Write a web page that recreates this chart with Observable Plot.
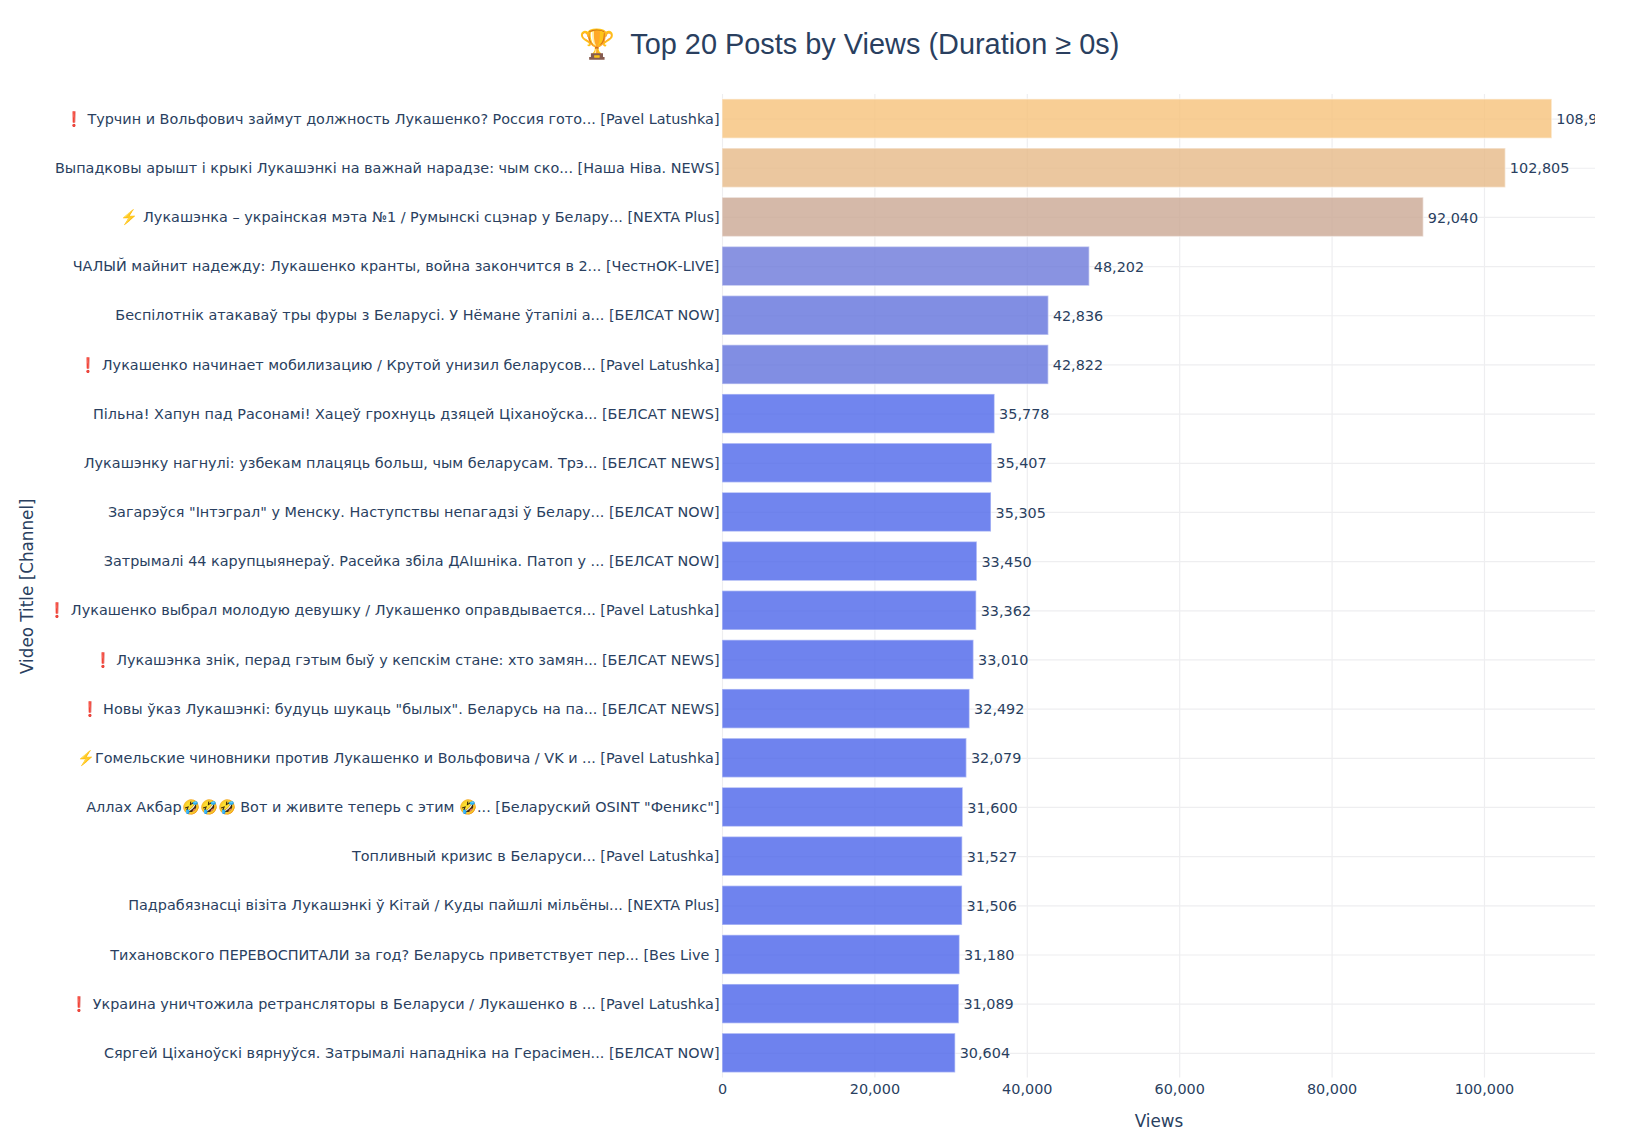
<!DOCTYPE html>
<html><head><meta charset="utf-8">
<script src="https://cdn.jsdelivr.net/npm/d3@7"></script>
<script src="https://cdn.jsdelivr.net/npm/@observablehq/plot@0.6"></script>
<style>
html,body{margin:0;padding:0;background:#fff;}
#wrap{width:1630px;}
#title{box-sizing:border-box;width:1630px;height:88px;text-align:center;font:28.9px "Liberation Sans",Arial,sans-serif;line-height:88px;color:#2a3f5f;white-space:pre;padding-left:68px;}
svg{display:block;}
</style></head><body>
<div id="wrap"><div id="title"></div><div id="chart"></div></div>
<script>
const chartTitle = "🏆  Top 20 Posts by Views (Duration ≥ 0s)";
const xLabel = "Views";
const yLabel = "Video Title [Channel]";
const titles = [
"❗ Турчин и Вольфович займут должность Лукашенко? Россия гото...",
"Выпадковы арышт і крыкі Лукашэнкі на важнай нарадзе: чым ско...",
"⚡\uFE0F Лукашэнка – украінская мэта №1 / Румынскі сцэнар у Белару...",
"ЧАЛЫЙ майнит надежду: Лукашенко кранты, война закончится в 2...",
"Беспілотнік атакаваў тры фуры з Беларусі. У Нёмане ўтапілі а...",
"❗ Лукашенко начинает мобилизацию / Крутой унизил беларусов...",
"Пільна! Хапун пад Расонамі! Хацеў грохнуць дзяцей Ціханоўска...",
"Лукашэнку нагнулі: узбекам плацяць больш, чым беларусам. Трэ...",
"Загарэўся \"Інтэграл\" у Менску. Наступствы непагадзі ў Белару...",
"Затрымалі 44 карупцыянераў. Расейка збіла ДАІшніка. Патоп у ...",
"❗ Лукашенко выбрал молодую девушку / Лукашенко оправдывается...",
"❗ Лукашэнка знік, перад гэтым быў у кепскім стане: хто замян...",
"❗ Новы ўказ Лукашэнкі: будуць шукаць \"былых\". Беларусь на па...",
"⚡\uFE0FГомельские чиновники против Лукашенко и Вольфовича / VK и ...",
"Аллах Акбар🤣🤣🤣 Вот и живите теперь с этим 🤣...",
"Топливный кризис в Беларуси...",
"Падрабязнасці візіта Лукашэнкі ў Кітай / Куды пайшлі мільёны...",
"Тихановского ПЕРЕВОСПИТАЛИ за год? Беларусь приветствует пер...",
"❗ Украина уничтожила ретрансляторы в Беларуси / Лукашенко в ...",
"Сяргей Ціханоўскі вярнуўся. Затрымалі нападніка на Герасімен..."
];
const channels = ["Pavel Latushka","Наша Ніва. NEWS","NEXTA Plus","ЧестнОК-LIVE","БЕЛСАТ NOW","Pavel Latushka","БЕЛСАТ NEWS","БЕЛСАТ NEWS","БЕЛСАТ NOW","БЕЛСАТ NOW","Pavel Latushka","БЕЛСАТ NEWS","БЕЛСАТ NEWS","Pavel Latushka","Беларуский OSINT \"Феникс\"","Pavel Latushka","NEXTA Plus","Bes Live ","Pavel Latushka","БЕЛСАТ NOW"];
const views = [108900,102805,92040,48202,42836,42822,35778,35407,35305,33450,33362,33010,32492,32079,31600,31527,31506,31180,31089,30604];
const xTicks = [0,20000,40000,60000,80000,100000];
const colorStops = [30604,36000,43000,48000,92040,102805,108900];
const colorRange = ["#4a63ea","#4d66ea","#6272dc","#6c78da","#cba893","#e6b987","#f6c27a"];

const rows = titles.map((t,i)=>({label:`${t} [${channels[i]}]`, views:views[i]}));
const fmt = d3.format(",");
const FONT = '"DejaVu Sans",Verdana,sans-serif';
const INK = "#2a3f5f";
document.getElementById("title").textContent = chartTitle;

const plot = Plot.plot({
  width:1630, height:1050,
  marginLeft:722, marginRight:35, marginTop:6, marginBottom:60.6,
  style:{fontFamily:FONT,fontSize:"14.4px",color:INK,background:"#fff",overflow:"visible"},
  x:{domain:[0,114570]},
  y:{domain:rows.map(d=>d.label),paddingInner:0.2,paddingOuter:0.1,align:0.5,round:false},
  color:{type:"linear",domain:colorStops,range:colorRange,interpolate:"rgb"},
  marks:[
    Plot.gridX(xTicks,{stroke:"#eeeef0",strokeOpacity:1,strokeWidth:1.2}),
    Plot.gridY(rows.map(d=>d.label),{stroke:"#eeeef0",strokeOpacity:1,strokeWidth:1.2}),
    Plot.barX(rows,{x:"views",y:"label",fill:"views",fillOpacity:0.8,stroke:"white",strokeOpacity:0.45,strokeWidth:1.5}),
    Plot.text(rows,{x:"views",y:"label",text:d=>fmt(d.views),textAnchor:"start",dx:4,dy:0.5,fill:INK,fontSize:14.4,clip:"frame"}),
    Plot.axisX(xTicks,{tickFormat:d=>fmt(d),tickSize:0,tickPadding:5.6,fill:INK,fontSize:14.4,label:null}),
    Plot.axisY(rows.map(d=>d.label),{tickSize:0,tickPadding:3,fill:INK,fontSize:14.4,label:null,textOverflow:null}),
    Plot.text([xLabel],{frameAnchor:"bottom",dy:49,fontSize:16.8,fill:INK}),
    Plot.text([yLabel],{frameAnchor:"left",dx:-695,rotate:-90,textAnchor:"middle",fontSize:16.8,fill:INK})
  ]
});
document.getElementById("chart").appendChild(plot);
</script>
</body></html>
